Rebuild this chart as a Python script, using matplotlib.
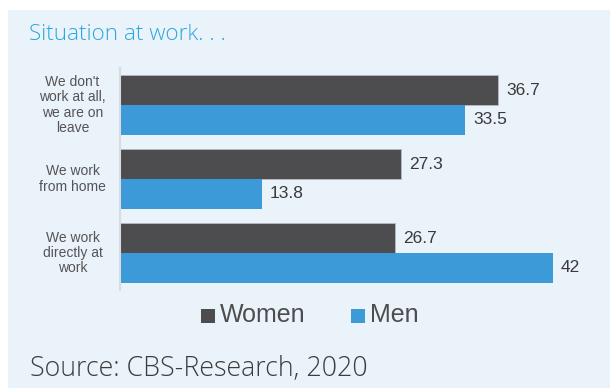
import matplotlib
matplotlib.use("Agg")
import matplotlib.pyplot as plt
from matplotlib.patches import Rectangle

# survey answers, percent
categories = ["We don't\nwork at all,\nwe are on\nleave", "We work\nfrom home", "We work\ndirectly at\nwork"]
women = [36.7, 27.3, 26.7]
men = [33.5, 13.8, 42]
value_labels_women = ["36.7", "27.3", "26.7"]
value_labels_men = ["33.5", "13.8", "42"]

BG = "#eaf2fa"
DARK = "#4d4d4f"
BLUE = "#3d9ad8"

W, H = 610, 388
fig = plt.figure(figsize=(W / 100, H / 100), dpi=100)
fig.patch.set_facecolor("white")

# light panel behind everything
fig.patches.append(Rectangle((8 / W, 0), 1, (H - 10) / H, transform=fig.transFigure,
                             facecolor=BG, edgecolor="none", zorder=-1))

fig.text(29 / W, (H - 35) / H, "Situation at work. . .", color="#2aa8e0", va="center",
         fontsize=16.2, family="Open Sans", fontweight="light")

ax = fig.add_axes([120 / W, 98 / H, 480 / W, 222 / H])
ax.set_facecolor("none")
scale = 10.31  # px per percent
ax.set_xlim(0, 480 / scale)
ax.set_ylim(2.5, -0.5)

ypos = list(range(len(categories)))
h = 0.4
ax.barh([y - h / 2 for y in ypos], women, height=h, color=DARK, edgecolor="#b8bcc2", linewidth=0.6)
ax.barh([y + h / 2 for y in ypos], men, height=h, color=BLUE, edgecolor="none")

for y, v, t in zip(ypos, women, value_labels_women):
    ax.text(v + 0.75, y - h / 2, t, va="center", ha="left", fontsize=12.5,
            color="#3a3a3a", family="Liberation Sans")
for y, v, t in zip(ypos, men, value_labels_men):
    ax.text(v + 0.75, y + h / 2, t, va="center", ha="left", fontsize=12.5,
            color="#3a3a3a", family="Liberation Sans")

for y, c in zip(ypos, categories):
    ax.text(-4.6, y, c, va="center", ha="center", fontsize=10, color="#555555",
            family="Liberation Sans", linespacing=1.12)

ax.set_xticks([])
ax.set_yticks([])
for s in ["top", "right", "bottom"]:
    ax.spines[s].set_visible(False)
ax.spines["left"].set_color("#d8dce2")
ax.spines["left"].set_linewidth(1.5)

# legend
for x0, col, lab in [(201, DARK, "Women"), (351, BLUE, "Men")]:
    fig.patches.append(Rectangle((x0 / W, (H - 323) / H), 14 / W, 14 / H,
                                 transform=fig.transFigure, facecolor=col, edgecolor="none"))
    fig.text((x0 + 19) / W, (H - 315) / H, lab, va="center", ha="left", fontsize=18,
             color="#4d4d4f", family="Liberation Sans")

fig.text(30 / W, (H - 369) / H, "Source: CBS-Research, 2020", va="center", ha="left",
         fontsize=19.3, color="#3c3c3c", family="Open Sans", fontweight="light")

fig.savefig("out.png", dpi=100, facecolor=fig.get_facecolor())
